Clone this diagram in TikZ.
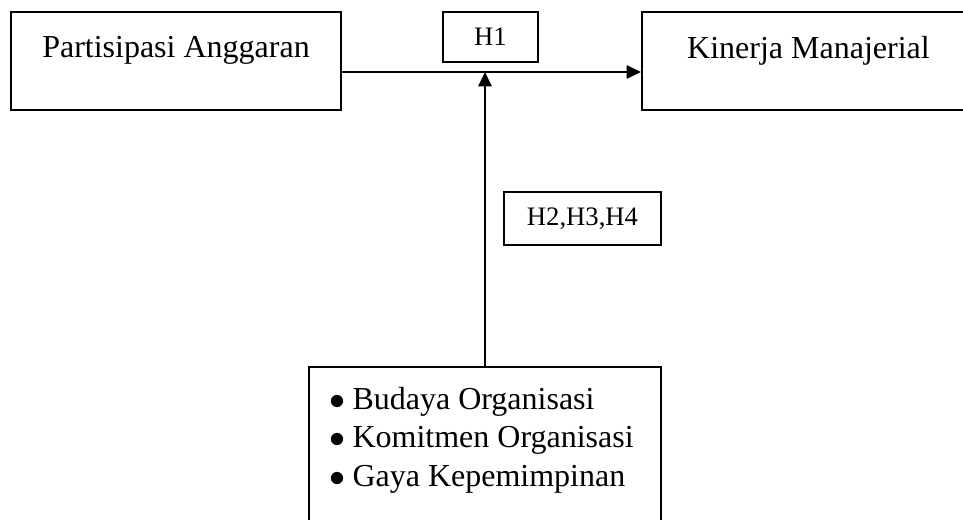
\documentclass[tikz,border=0pt]{standalone}
\usepackage{fontspec}
\setmainfont{Liberation Serif}
\usetikzlibrary{arrows.meta,positioning}
\tikzset{
    var box/.style={rectangle, draw, line width=0.75pt},
    var text/.style={inner sep=0pt, font=\fontsize{12}{14.6}\selectfont, align=left},
    hyp label/.style={rectangle, draw, line width=0.75pt, inner sep=0pt, font=\fontsize{10}{12}\selectfont},
    link/.style={->, line width=0.75pt}
}
\newcommand{\itembullet}{\makebox[8.6pt][l]{$\bullet$}}

\begin{document}
\begin{tikzpicture}[x=0.375pt, y=-0.375pt,
	>={Triangle[length=5.4pt,width=5pt]}]
		\useasboundingbox (0,0) rectangle (963,520);
		\clip (0,0) rectangle (963,520);
		% variabel
		\node[var box, minimum width=123.75pt, minimum height=36.75pt] (pa) at (176,61) {};
		\node[var text, below=9.2pt of pa.north] (patext) {Partisipasi Anggaran};
		\node[var box, minimum width=124.9pt, minimum height=36.75pt] (km) at (808.5,61) {};
		\node[var text, below=9.2pt of km.north] (kmtext) {Kinerja Manajerial};
		\node[var box, minimum width=132pt, minimum height=63pt] (mod) at (485,451) {};
		\node[var text, below right=7.6pt and 7.9pt of mod.north west] (modtext)
			{\itembullet Budaya Organisasi\\ \itembullet Komitmen Organisasi\\ \itembullet Gaya Kepemimpinan};
		% hipotesis
		\node[hyp label, minimum width=35.6pt, minimum height=18.4pt] (h1) at (490.5,37) {\raisebox{-1pt}{H1}};
		\node[hyp label, minimum width=58.9pt, minimum height=19.9pt] (hx) at (582.5,218.5) {H2,H3,H4};
		% panah
		\coordinate (j) at (485,72);
		\draw[link] (pa.east |- j) -- (km.west |- j);
		\draw[link] (mod.north) -- (j);
	\end{tikzpicture}
\end{document}
